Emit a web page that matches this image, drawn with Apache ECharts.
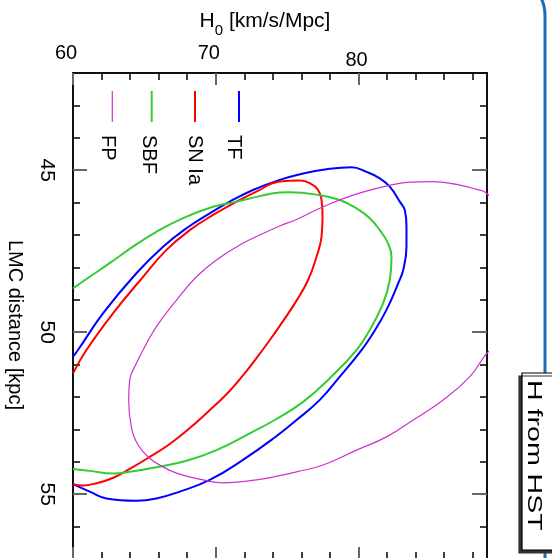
<!DOCTYPE html>
<html><head><meta charset="utf-8">
<script src="https://cdn.jsdelivr.net/npm/echarts@6/dist/echarts.min.js"></script>
<style>html,body{margin:0;padding:0;background:#fff}#c{width:552px;height:558px}</style>
</head><body><div id="c"></div>
<script>
// ---- data (H0 [km/s/Mpc], LMC distance [kpc]) ----
const seriesNames = ['TF', 'SN Ia', 'SBF', 'FP'];
const seriesColors = ['#0000ff', '#ff0000', '#33cc33', '#cc33cc'];
const tfContour = [
  [60.00,50.76],[60.35,50.55],[62.10,49.42],[64.44,48.18],[66.31,47.36],[67.95,46.79],[69.58,46.33],
  [70.98,45.97],[72.61,45.61],[74.48,45.30],[76.12,45.10],[77.76,44.97],[79.51,44.91],[80.56,45.05],
  [81.49,45.25],[82.19,45.51],[82.89,45.97],[83.24,46.23],[83.36,46.74],[83.36,47.36],[83.13,48.08],
  [82.78,48.49],[81.96,49.31],[81.02,50.03],[80.21,50.55],[78.69,51.37],[77.29,52.09],
  [75.66,52.71],[74.13,53.25],[71.91,53.94],[69.58,54.56],[67.48,54.92],[65.84,55.13],[64.44,55.20],
  [62.34,55.13],[61.17,54.92],[60.00,54.69]
];
const snContour = [
  [60.00,51.27],[60.94,50.55],[62.80,49.42],[64.91,48.29],[66.55,47.46],[68.18,46.85],[69.81,46.38],
  [71.45,45.97],[72.85,45.66],[74.48,45.35],[75.89,45.32],[76.59,45.40],[77.17,45.61],
  [77.41,45.92],[77.48,46.44],[77.41,47.05],[77.06,47.67],[76.47,48.39],[75.68,49.01],[74.77,49.62],
  [73.79,50.24],[72.80,50.83],[71.82,51.38],[70.70,51.94],[69.44,52.46],[68.18,52.96],[66.78,53.45],
  [65.37,53.85],[63.97,54.22],[62.78,54.50],[61.66,54.66],[60.68,54.73],[60.00,54.69]
];
const sbfContour = [
  [60.00,48.65],[61.17,48.29],[62.57,47.87],[64.20,47.36],[65.84,46.90],[67.71,46.48],[69.81,46.13],
  [71.45,45.97],[73.08,45.80],[74.48,45.69],[75.19,45.68],[77.29,45.77],[78.69,45.92],[79.86,46.18],
  [80.79,46.48],[81.49,46.85],[82.07,47.26],[82.31,47.67],[82.19,48.39],[81.72,49.11],[80.79,49.93],
  [79.86,50.55],[77.99,51.42],[76.12,52.15],[74.13,52.71],[72.38,53.12],[70.05,53.64],
  [67.95,53.97],[65.84,54.17],[63.97,54.31],[62.80,54.36],[61.17,54.28],[60.00,54.22]
];
const fpContour = [
  [64.91,50.55],[65.84,49.83],[67.25,49.01],[68.65,48.29],[70.05,47.77],[71.68,47.31],[73.08,47.00],
  [74.48,46.72],[75.66,46.52],[77.52,46.13],[79.62,45.77],[81.96,45.49],[83.60,45.37],[85.23,45.35],
  [86.87,45.44],[88.27,45.59],[88.97,45.71],[90.5,46.5],[91.3,48.2],[90.5,50.0],[88.97,50.66],
  [87.80,51.37],[85.93,52.09],[83.83,52.71],[81.96,53.23],[79.86,53.64],[77.52,54.10],[75.66,54.31],
  [74.13,54.46],[72.85,54.56],[70.51,54.65],[69.11,54.56],[67.25,54.35],[66.08,54.10],[65.38,53.89],
  [64.56,53.48],[64.09,52.92],[63.90,52.09],[63.97,51.48],[64.44,50.96],[64.91,50.55]
];
const contours = [tfContour, snContour, sbfContour, fpContour];
const xTickLabels = [60, 70, 80];
const yTickLabels = [45, 50, 55];
const xRange = [60, 89];
const yRange = [42, 57];

// ---- chart ----
const FONT = '"Liberation Sans", Arial, Helvetica, sans-serif';
const chart = echarts.init(document.getElementById('c'), null, {renderer: 'canvas'});

const yMinor = [];
for (let v = yRange[0] + 1; v < yRange[1]; v++) if (yTickLabels.indexOf(v) < 0) yMinor.push(v);
const xMinor = [];
for (let v = xRange[0] + 2; v < xRange[1]; v += 2) if (xTickLabels.indexOf(v) < 0) xMinor.push(v);

const axisLineStyle = {show: true, onZero: false, lineStyle: {color: '#000', width: 1.5}};
const majorTick = (vals, len) => ({show: true, inside: true, length: len, customValues: vals, lineStyle: {color: '#666', width: 2}});
const minorTick = (vals) => ({show: true, inside: true, length: 7, customValues: vals, lineStyle: {color: '#000', width: 1.5}});
const baseX = {type: 'value', min: xRange[0], max: xRange[1], splitLine: {show: false}, axisLine: axisLineStyle};
const baseY = {type: 'value', min: yRange[0], max: yRange[1], inverse: true, splitLine: {show: false}, axisLine: axisLineStyle};

const option = {
  backgroundColor: '#fff',
  animation: false,
  textStyle: {fontFamily: FONT},
  grid: {left: 73, top: 73, width: 414, height: 486, containLabel: false, outerBoundsMode: 'none'},
  xAxis: [
    Object.assign({}, baseX, {
      position: 'top',
      axisTick: majorTick(xTickLabels, 12),
      axisLabel: {
        show: true, margin: 3, customValues: xTickLabels, color: '#000', fontFamily: FONT, fontSize: 20,
        formatter: v => v === 80 ? '{b|80}' : '{a|' + v + '}',
        rich: {a: {fontSize: 20, fontFamily: FONT, color: '#000', padding: [0, 14, 7, 0]},
               b: {fontSize: 20, fontFamily: FONT, color: '#000', padding: [0, 4, 0, 0]}}
      },
      name: 'H{sub|0} [km/s/Mpc]', nameLocation: 'middle', nameGap: 35,
      nameTextStyle: {fontSize: 21, fontFamily: FONT, color: '#000', padding: [0, 30, 0, 0],
        rich: {sub: {fontSize: 15, fontFamily: FONT, color: '#000', padding: [18, 0, 0, 0]}}}
    }),
    Object.assign({}, baseX, {position: 'top', axisTick: minorTick(xMinor), axisLabel: {show: false}}),
    Object.assign({}, baseX, {position: 'bottom', axisTick: majorTick(xTickLabels, 12), axisLabel: {show: false}}),
    Object.assign({}, baseX, {position: 'bottom', axisTick: minorTick(xMinor), axisLabel: {show: false}})
  ],
  yAxis: [
    Object.assign({}, baseY, {
      position: 'left',
      axisTick: majorTick(yTickLabels, 14),
      axisLabel: {show: true, customValues: yTickLabels, rotate: -90, margin: 16, color: '#000', fontFamily: FONT, fontSize: 21},
      name: 'LMC distance [kpc]', nameLocation: 'middle', nameRotate: -90, nameGap: 48,
      nameTextStyle: {fontSize: 20, fontFamily: FONT, color: '#000', padding: [0, 0, 0, 18]}
    }),
    Object.assign({}, baseY, {position: 'left', axisTick: minorTick(yMinor), axisLabel: {show: false}}),
    Object.assign({}, baseY, {position: 'right', axisTick: majorTick(yTickLabels, 15), axisLabel: {show: false}}),
    Object.assign({}, baseY, {position: 'right', axisTick: minorTick(yMinor), axisLabel: {show: false}})
  ],
  series: contours.map((pts, i) => ({
    name: seriesNames[i], type: 'line', xAxisIndex: 0, yAxisIndex: 0,
    data: pts, smooth: 0.45, symbol: 'none', clip: true,
    lineStyle: {color: seriesColors[i], width: i === 3 ? 1.2 : 2}
  })),
  graphic: []
};

// legend: short vertical strokes with rotated labels
const legendLineX = [239, 195, 151.7, 112.3];
const legendTextX = [234, 195, 149, 108];
const g = [];
seriesNames.forEach((n, i) => {
  g.push({type: 'line', shape: {x1: legendLineX[i], y1: 91, x2: legendLineX[i], y2: 122},
          style: {stroke: seriesColors[i], lineWidth: i === 3 ? 1.2 : 2}, z: 10});
  g.push({type: 'text', x: legendTextX[i], y: 135, rotation: -Math.PI / 2, z: 10,
          style: {text: n, fontSize: 20, fontFamily: FONT, fill: '#000', align: 'left', verticalAlign: 'middle'}});
});
// right-side frame and boxed label
g.push({type: 'line', shape: {x1: 545, y1: 16, x2: 545, y2: 570},
        style: {stroke: '#1f6db3', lineWidth: 3}, z: 10});
g.push({type: 'bezierCurve', shape: {x1: 545, y1: 16, cpx1: 545, cpy1: 0, x2: 536, y2: -8},
        style: {stroke: '#1f6db3', lineWidth: 3, fill: null}, z: 10});
g.push({type: 'rect', shape: {x: 522, y: 373, width: 45, height: 177},
        style: {fill: '#fff', stroke: '#000', lineWidth: 1.2, shadowColor: '#333', shadowBlur: 0, shadowOffsetX: -3, shadowOffsetY: 3}, z: 11});
g.push({type: 'text', x: 534, y: 380, rotation: -Math.PI / 2, scaleX: 1.36, z: 12,
        style: {text: 'H from HST', fontSize: 21, fontFamily: FONT, fill: '#000', align: 'left', verticalAlign: 'middle'}});
option.graphic = g;

chart.setOption(option);
</script>
</body></html>
